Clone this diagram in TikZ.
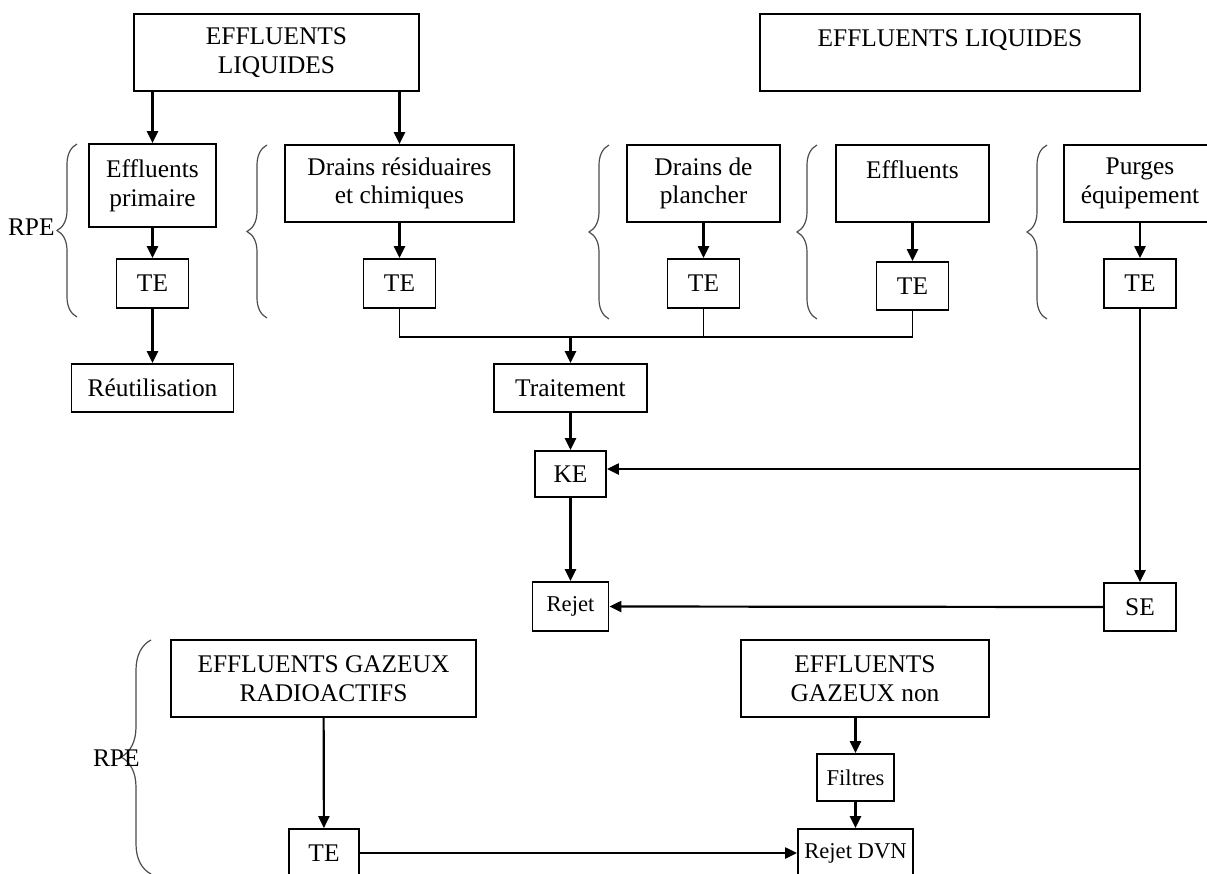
\documentclass[tikz,border=0pt]{standalone}
\usepackage{fontspec}
\setmainfont{Liberation Serif}
\usepackage{tikz}
\usetikzlibrary{arrows.meta, decorations.pathreplacing}

\begin{document}
\begin{tikzpicture}[x=0.5pt, y=-0.5pt,
    box/.style={draw, line width=0.9pt, inner sep=1pt, align=center, font=\fontsize{12.7}{14.3}\selectfont},
    petit/.style={box, font=\fontsize{11.3}{13}\selectfont},
    fleche/.style={line width=1.1pt, -{Triangle[length=6pt, width=5.5pt]}},
    liaison/.style={line width=0.8pt},
    accolade/.style={decorate, decoration={brace, amplitude=10pt}, gray!60!black, line width=0.6pt}]
    % --- 1. 畫布大小與裁剪 ---
    \path[use as bounding box] (0,0) rectangle (1207,874);
    \clip (0,0) rectangle (1207,874);

    % --- 2. 液體流出物 (上方) ---
    \node[box, minimum width=142.5pt, minimum height=38.5pt] (liqA) at (276.5,52.5) {EFFLUENTS\\LIQUIDES};
    \node[box, minimum width=190pt, minimum height=38.5pt] (liqB) at (950,52.5) {EFFLUENTS LIQUIDES\\~};

    \node[box, minimum width=63.5pt, minimum height=41.5pt] (prim) at (152.5,185.5) {Effluents\\primaire};
    \node[box, minimum width=114.5pt, minimum height=38.5pt] (drainsR) at (399.5,183.5) {Drains résiduaires\\et chimiques};
    \node[box, minimum width=76.5pt, minimum height=38.5pt] (plancher) at (703.5,183.5) {Drains de\\plancher};
    \node[box, minimum width=76.5pt, minimum height=38.5pt] (effl) at (912.5,183.5) {Effluents\\~};
    \node[box, minimum width=76pt, minimum height=38.5pt] (purges) at (1140,183.5) {Purges\\équipement};

    % --- 3. TE 儲槽 ---
    \node[box, minimum width=36pt, minimum height=24.5pt] (te1) at (152.5,283.5) {TE};
    \node[box, minimum width=36pt, minimum height=24.5pt] (te2) at (399.5,283.5) {TE};
    \node[box, minimum width=36pt, minimum height=24.5pt] (te3) at (703.5,283.5) {TE};
    \node[box, minimum width=36pt, minimum height=24pt] (te4) at (912.5,286) {TE};
    \node[box, minimum width=36pt, minimum height=24.5pt] (te5) at (1140,283.5) {TE};

    % --- 4. 處理與排放 ---
    \node[box, minimum width=81pt, minimum height=24pt] (reut) at (152.5,388) {Réutilisation};
    \node[box, minimum width=76.5pt, minimum height=24pt] (trait) at (570.5,388) {Traitement};
    \node[box, minimum width=35.5pt, minimum height=23pt] (ke) at (570.5,474) {KE};
    \node[petit, minimum width=38pt, minimum height=24.5pt] (rejet) at (570.5,606.5) {Rejet};
    \node[box, minimum width=36pt, minimum height=24pt] (se) at (1140,607) {SE};

    % --- 5. 氣體流出物 (下方) ---
    \node[box, minimum width=152.5pt, minimum height=38.5pt] (gazA) at (323.5,678.5) {EFFLUENTS GAZEUX\\RADIOACTIFS};
    \node[box, minimum width=124pt, minimum height=38.5pt] (gazB) at (865,678.5) {EFFLUENTS\\GAZEUX non};
    \node[petit, minimum width=38.5pt, minimum height=23.5pt] (filtres) at (855.5,777.5) {Filtres};
    \node[box, minimum width=35pt, minimum height=24pt] (te6) at (324,853) {TE};
    \node[petit, minimum width=57.5pt, minimum height=24pt] (dvn) at (855.5,853) {Rejet DVN};

    % --- 6. 大括號與 RPE ---
    \draw[accolade] (77,317) -- (77,144);
    \draw[accolade] (267,318) -- (267,145);
    \draw[accolade] (609,319) -- (609,145);
    \draw[accolade] (817,319) -- (817,145);
    \draw[accolade] (1047,319) -- (1047,145);
    \draw[accolade, decoration={amplitude=15pt}] (151,874) -- (151,640);
    \node[anchor=east, font=\fontsize{12.7}{14}\selectfont, inner sep=0pt] (rpeA) at (55,227) {RPE};
    \node[anchor=east, font=\fontsize{12.7}{14}\selectfont, inner sep=0pt] (rpeB) at (140,758) {RPE};

    % --- 7. 箭頭 ---
    \draw[fleche] (liqA.south -| prim.north) -- (prim.north);
    \draw[fleche] (liqA.south -| drainsR.north) -- (drainsR.north);
    \draw[fleche] (prim) -- (te1);
    \draw[fleche] (te1) -- (reut);
    \draw[fleche] (drainsR) -- (te2);
    \draw[fleche] (plancher) -- (te3);
    \draw[fleche] (effl) -- (te4);
    \draw[fleche] (purges) -- (te5);

    \coordinate (jonction) at (570.5,337);
    \draw[liaison] (te2.south) |- (jonction);
    \draw[liaison] (te4.south) |- (jonction);
    \draw[liaison] (te3.south) -- (te3.south |- jonction);
    \draw[fleche] (jonction) -- (trait.north);
    \draw[fleche] (trait) -- (ke);
    \draw[fleche] (ke) -- (rejet);

    \coordinate (branche) at (1140,469);
    \draw[fleche] (te5) -- (se);
    \draw[fleche] (branche) -- (branche -| ke.east);
    \draw[fleche] (se.west) -- (rejet.east);

    \draw[fleche] (gazA) -- (te6);
    \draw[fleche] (gazB.south -| filtres.north) -- (filtres.north);
    \draw[fleche] (filtres) -- (dvn);
    \draw[fleche] (te6.east) -- (dvn.west);

\end{tikzpicture}
\end{document}
